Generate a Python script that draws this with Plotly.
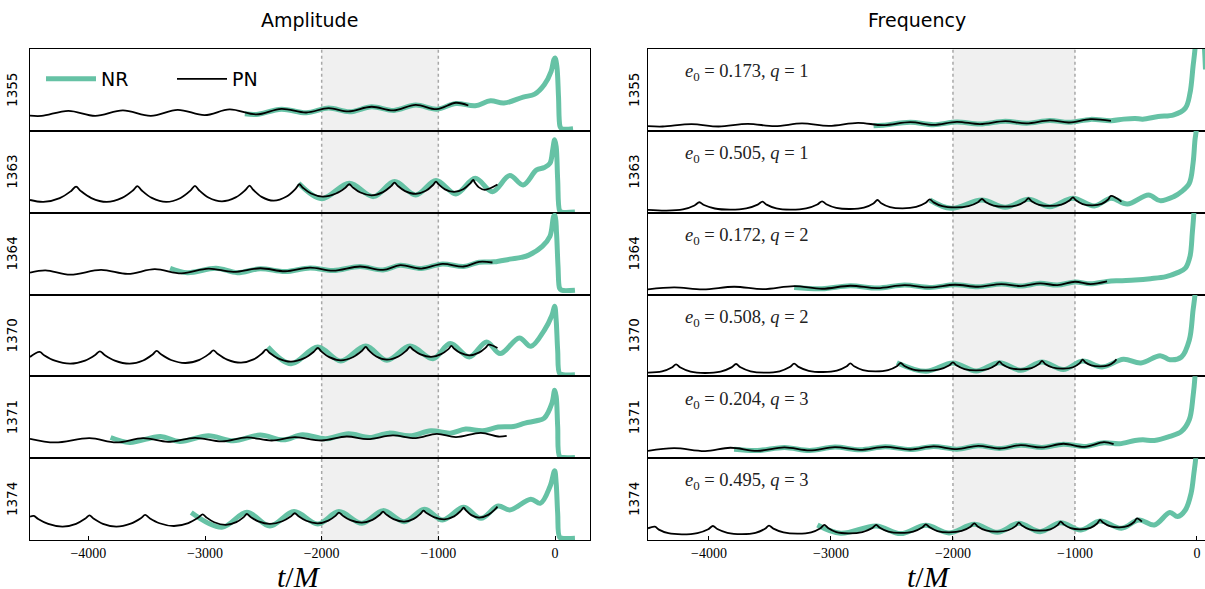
import plotly.graph_objects as go

W, H = 1205, 589

SIMS = ["1355", "1363", "1364", "1370", "1371", "1374"]
E0 = ["0.173", "0.505", "0.172", "0.508", "0.204", "0.495"]
Q = ["1", "1", "2", "2", "3", "3"]
TICKS = [-4000, -3000, -2000, -1000, 0]
WINDOW = [-2000, -1000]

# ---------------- Amplitude (values in % of panel height) ----------------
AMP_1355_PN_T = [-4500, -4400, -4171, -3941, -3704, -3464, -3234, -3003, -2789, -2559, -2345, -2132, -1941, -1770, -1572, -1385, -1194, -1013, -849, -743]
AMP_1355_PN_Y = [18.5, 18.2, 24.5, 18.4, 24.9, 18.4, 25.7, 19.2, 26.1, 20.0, 26.9, 22.4, 27.8, 23.7, 29.4, 24.9, 31.8, 26.5, 34.3, 31.0]
AMP_1355_NR_T = [-2658, -2559, -2345, -2132, -1941, -1760, -1572, -1380, -1194, -1013, -849, -684, -553, -438, -273, -174, -92, -33, -10, 0, 16, 30, 43, 56, 155]
AMP_1355_NR_Y = [20.8, 20.0, 26.5, 22.0, 27.8, 23.3, 29.4, 25.0, 31.5, 26.5, 33.5, 30.6, 36.7, 33.9, 41.2, 44.9, 56.3, 72.7, 86.9, 89.0, 78.8, 42.0, 5.3, 2.5, 2.5]

AMP_1363_PN_T = [-4500, -4385, -4245, -4147, -4105, -4066, -3974, -3842, -3711, -3618, -3579, -3542, -3456, -3332, -3209, -3123, -3086, -3051, -2971, -2855, -2737, -2654, -2618, -2587, -2515, -2411, -2301, -2224, -2191, -2161, -2091, -1990, -1877, -1797, -1763, -1734, -1668, -1572, -1474, -1405, -1375, -1348, -1285, -1194, -1107, -1046, -1020, -997, -943, -865, -783, -726, -701, -686, -652, -602, -493]
AMP_1363_PN_Y = [15.5, 13.1, 17.8, 26.6, 31.8, 26.6, 17.8, 13.1, 18.0, 27.1, 32.5, 27.1, 18.0, 13.1, 18.0, 27.2, 32.7, 27.4, 18.6, 13.9, 18.7, 27.7, 33.1, 28.0, 19.3, 14.7, 19.7, 29.1, 34.7, 30.5, 23.4, 19.6, 23.4, 30.5, 34.7, 30.9, 24.6, 21.2, 25.1, 32.4, 36.7, 32.8, 26.4, 22.9, 26.7, 33.8, 38.0, 34.4, 28.5, 25.3, 29.0, 35.9, 40.0, 36.6, 30.9, 27.8, 34.3]
AMP_1363_NR_T = [-2197, -2000, -1763, -1556, -1375, -1194, -1020, -849, -684, -536, -388, -273, -158, -92, -43, -20, -3, 10, 23, 40, 56, 171]
AMP_1363_NR_Y = [35.9, 17.1, 35.9, 19.6, 38.0, 21.6, 39.2, 22.9, 42.0, 25.7, 45.3, 33.9, 52.2, 55.1, 60.4, 76.7, 89.0, 80.8, 40.0, 2.4, 0.8, 0.8]

AMP_1364_PN_T = [-4500, -4368, -4155, -3891, -3661, -3431, -3201, -2970, -2757, -2526, -2313, -2099, -1901, -1671, -1474, -1326, -1145, -964, -783, -651, -536]
AMP_1364_PN_Y = [26.7, 29.6, 24.3, 30.0, 25.1, 30.9, 25.9, 31.7, 27.6, 32.1, 28.4, 32.9, 29.2, 34.2, 30.0, 35.8, 31.7, 37.4, 34.2, 39.9, 39.1]
AMP_1364_NR_T = [-3299, -3151, -2905, -2724, -2526, -2313, -2099, -1901, -1671, -1474, -1326, -1145, -964, -783, -651, -520, -388, -289, -224, -109, -43, -10, 0, 13, 26, 40, 56, 171]
AMP_1364_NR_Y = [32.1, 26.7, 32.1, 26.7, 31.5, 28.0, 32.5, 29.2, 34.2, 30.0, 35.8, 31.7, 37.4, 34.2, 39.5, 39.9, 43.2, 45.3, 48.1, 58.8, 71.2, 95.9, 96.7, 75.3, 34.2, 7.4, 5.3, 5.3]

AMP_1370_PN_T = [-4500, -4418, -4379, -4287, -4155, -4028, -3939, -3901, -3863, -3773, -3645, -3530, -3449, -3414, -3377, -3291, -3168, -3048, -2964, -2928, -2892, -2810, -2691, -2584, -2509, -2477, -2445, -2370, -2263, -2148, -2068, -2033, -2003, -1935, -1836, -1729, -1654, -1622, -1595, -1532, -1441, -1342, -1273, -1243, -1216, -1153, -1063, -976, -914, -888, -865, -811, -734, -652, -594, -569, -493]
AMP_1370_PN_Y = [23.7, 29.8, 25.8, 19.1, 15.5, 19.3, 26.4, 30.6, 26.4, 19.3, 15.5, 19.4, 26.7, 31.0, 26.9, 20.0, 16.3, 20.2, 27.5, 31.8, 27.6, 20.5, 16.7, 20.7, 28.2, 32.7, 28.6, 21.7, 18.0, 22.2, 30.0, 34.7, 30.5, 23.4, 19.6, 23.7, 31.3, 35.9, 31.6, 24.3, 20.4, 24.3, 31.6, 35.9, 32.5, 26.8, 23.7, 27.1, 33.3, 37.1, 33.9, 28.6, 25.7, 29.0, 35.1, 38.8, 34.7]
AMP_1370_NR_T = [-2461, -2263, -2033, -1836, -1622, -1441, -1243, -1046, -898, -734, -586, -470, -306, -207, -92, -26, -3, 10, 23, 40, 72, 171]
AMP_1370_NR_Y = [35.9, 15.5, 35.9, 18.8, 37.1, 19.6, 37.1, 21.6, 40.0, 23.7, 42.0, 27.8, 46.9, 36.7, 56.3, 74.7, 85.7, 68.6, 31.8, 3.3, 2.0, 2.0]

AMP_1371_PN_T = [-4500, -4286, -3990, -3760, -3530, -3316, -3086, -2855, -2641, -2428, -2230, -2000, -1786, -1605, -1391, -1194, -1013, -849, -635, -487, -414]
AMP_1371_PN_Y = [23.7, 19.2, 24.5, 19.2, 24.5, 20.0, 24.9, 20.4, 25.3, 21.6, 25.7, 21.6, 26.5, 23.3, 27.8, 24.5, 29.8, 25.7, 31.0, 26.5, 27.3]
AMP_1371_NR_T = [-3809, -3645, -3382, -3217, -2970, -2757, -2526, -2329, -2164, -1967, -1770, -1589, -1424, -1243, -1063, -898, -766, -618, -487, -355, -257, -158, -92, -26, -3, 10, 23, 40, 72, 171]
AMP_1371_NR_Y = [25.3, 19.2, 26.5, 20.4, 27.3, 21.2, 28.2, 22.4, 28.6, 23.7, 29.8, 25.3, 30.6, 27.3, 33.5, 30.6, 35.5, 33.5, 38.0, 38.8, 42.9, 45.7, 49.0, 67.3, 82.9, 75.5, 38.8, 2.0, 0.8, 0.8]

AMP_1374_PN_T = [-4500, -4467, -4430, -4344, -4220, -4105, -4025, -3990, -3956, -3875, -3760, -3637, -3550, -3513, -3476, -3390, -3266, -3143, -3057, -3020, -2990, -2921, -2822, -2732, -2668, -2641, -2611, -2543, -2444, -2337, -2262, -2230, -2200, -2132, -2033, -1943, -1879, -1852, -1822, -1754, -1655, -1565, -1501, -1474, -1447, -1384, -1293, -1211, -1153, -1128, -1101, -1038, -947, -865, -808, -783, -763, -717, -651, -572, -517, -493]
AMP_1374_PN_Y = [28.6, 29.4, 25.7, 19.6, 16.3, 19.8, 26.3, 30.2, 26.3, 19.8, 16.3, 19.9, 26.6, 30.6, 26.8, 20.5, 17.1, 20.7, 27.4, 31.4, 27.8, 21.7, 18.4, 21.8, 28.0, 31.8, 28.4, 22.7, 19.6, 22.9, 29.0, 32.7, 29.3, 23.5, 20.4, 23.7, 29.8, 33.5, 30.1, 24.3, 21.2, 24.6, 30.9, 34.7, 31.3, 25.5, 22.4, 25.8, 32.1, 35.9, 32.9, 28.0, 25.3, 28.9, 35.6, 39.6, 36.2, 30.4, 27.3, 30.7, 37.0, 40.8]
AMP_1374_NR_T = [-3118, -2855, -2641, -2444, -2237, -2033, -1852, -1655, -1474, -1293, -1118, -964, -783, -635, -487, -388, -207, -125, -43, -3, 10, 23, 40, 72, 171]
AMP_1374_NR_Y = [33.5, 15.5, 34.0, 17.1, 34.7, 19.6, 34.7, 20.4, 35.9, 22.4, 37.6, 24.5, 40.0, 26.5, 41.6, 36.7, 49.8, 44.9, 65.3, 84.5, 69.4, 32.7, 3.3, 2.0, 2.0]

# ---------------- Frequency (values in % of panel height) ----------------
FRQ_1355_PN_T = [-4500, -4380, -4143, -3921, -3683, -3460, -3238, -3016, -2778, -2571, -2349, -2159, -1968, -1778, -1571, -1397, -1206, -1048, -873, -705]
FRQ_1355_PN_Y = [5.7, 5.3, 8.2, 5.3, 8.6, 5.7, 9.0, 6.1, 9.8, 6.9, 10.6, 7.3, 11.0, 8.2, 11.8, 9.0, 12.7, 10.2, 14.3, 12.2]
FRQ_1355_NR_T = [-2651, -2571, -2349, -2159, -1968, -1778, -1571, -1397, -1206, -1048, -873, -705, -600, -508, -444, -317, -190, -95, -57, -32, -16, -5, 20, 50, 62, 70]
FRQ_1355_NR_Y = [6.1, 6.9, 10.4, 7.5, 10.8, 8.2, 11.8, 9.2, 12.7, 10.4, 14.0, 12.4, 14.3, 15.1, 14.3, 17.6, 19.6, 27.8, 46.1, 78.8, 100, 130, 170, 125, 100, 75]

FRQ_1363_PN_T = [-4500, -4349, -4214, -4119, -4079, -4041, -3952, -3825, -3694, -3601, -3562, -3528, -3448, -3333, -3203, -3112, -3073, -3038, -2957, -2841, -2730, -2652, -2619, -2588, -2516, -2413, -2302, -2223, -2190, -2159, -2087, -1984, -1873, -1795, -1762, -1733, -1667, -1571, -1476, -1410, -1381, -1355, -1294, -1206, -1111, -1045, -1016, -992, -937, -857, -781, -728, -705, -619]
FRQ_1363_PN_Y = [3.3, 2.4, 3.9, 8.8, 12.7, 9.3, 5.1, 3.7, 5.2, 9.8, 13.5, 9.8, 5.2, 3.7, 5.2, 10.0, 13.9, 10.3, 5.9, 4.5, 6.2, 11.3, 15.5, 11.6, 6.8, 5.3, 7.0, 12.1, 16.3, 12.6, 8.0, 6.5, 8.0, 12.8, 16.7, 13.1, 8.7, 7.3, 8.8, 13.7, 17.6, 14.0, 9.6, 8.2, 9.8, 14.8, 18.8, 15.1, 10.5, 9.0, 10.7, 16.1, 20.4, 13.5]
FRQ_1363_NR_T = [-2190, -2016, -1762, -1571, -1381, -1206, -1016, -841, -705, -571, -397, -302, -190, -127, -63, -32, -16, -6, 5]
FRQ_1363_NR_Y = [15.5, 5.3, 15.5, 6.5, 16.3, 7.3, 17.6, 8.2, 17.6, 10.6, 21.6, 14.7, 19.6, 25.7, 35.9, 60.4, 89.0, 100, 130]

FRQ_1364_PN_T = [-4500, -4286, -4048, -3794, -3556, -3302, -3073, -2841, -2619, -2397, -2190, -1984, -1794, -1603, -1444, -1286, -1143, -1000, -873, -737]
FRQ_1364_PN_Y = [6.2, 8.6, 6.2, 9.5, 6.6, 10.3, 7.0, 10.7, 7.8, 11.5, 8.6, 11.9, 9.5, 12.8, 10.3, 13.6, 11.5, 15.6, 12.8, 16.0]
FRQ_1364_NR_T = [-3302, -3073, -2841, -2619, -2397, -2190, -1984, -1794, -1603, -1444, -1286, -1143, -1000, -873, -737, -635, -508, -381, -254, -159, -95, -57, -38, -25, -15]
FRQ_1364_NR_Y = [8.6, 7.0, 10.7, 7.8, 11.5, 8.6, 11.9, 9.5, 12.8, 10.3, 13.6, 11.5, 15.4, 13.0, 16.0, 16.9, 17.7, 19.3, 21.8, 26.7, 32.1, 46.5, 75.3, 100, 130]

FRQ_1370_PN_T = [-4500, -4385, -4305, -4270, -4234, -4151, -4032, -3905, -3816, -3778, -3742, -3659, -3540, -3421, -3338, -3302, -3266, -3183, -3063, -2952, -2874, -2841, -2810, -2738, -2635, -2532, -2460, -2429, -2398, -2326, -2222, -2111, -2033, -2000, -1972, -1905, -1810, -1715, -1648, -1619, -1593, -1532, -1444, -1357, -1296, -1270, -1244, -1183, -1095, -1016, -961, -937, -916, -866, -794, -727, -680, -660]
FRQ_1370_PN_Y = [4.5, 6.0, 10.8, 14.7, 10.7, 5.7, 4.1, 5.8, 10.9, 15.1, 11.0, 6.1, 4.5, 6.2, 11.3, 15.5, 11.6, 6.8, 5.3, 6.9, 11.9, 15.9, 12.2, 7.6, 6.1, 7.6, 12.4, 16.3, 12.7, 8.3, 6.9, 8.4, 13.2, 17.1, 13.4, 8.8, 7.3, 8.9, 13.9, 18.0, 14.4, 10.0, 8.6, 10.1, 14.9, 18.8, 15.2, 10.8, 9.4, 11.1, 16.2, 20.4, 17.3, 13.4, 12.2, 13.5, 17.5, 20.8]
FRQ_1370_NR_T = [-2460, -2222, -2000, -1810, -1619, -1444, -1270, -1095, -937, -778, -603, -460, -302, -222, -127, -63, -32, -16, -6]
FRQ_1370_NR_Y = [16.7, 6.1, 16.3, 6.5, 16.7, 7.3, 17.6, 8.2, 18.8, 11.4, 20.8, 16.3, 25.3, 20.4, 23.7, 44.1, 80.8, 100, 130]

FRQ_1371_PN_T = [-4500, -4286, -4032, -3825, -3603, -3381, -3175, -2968, -2762, -2556, -2349, -2159, -1968, -1794, -1619, -1444, -1270, -1095, -921, -762, -683]
FRQ_1371_PN_Y = [9.0, 12.2, 8.6, 12.7, 9.0, 13.1, 9.4, 13.5, 10.2, 13.9, 10.6, 14.3, 11.0, 15.1, 11.8, 15.9, 13.1, 17.6, 13.9, 19.6, 17.1]
FRQ_1371_NR_T = [-3794, -3603, -3381, -3175, -2968, -2762, -2556, -2349, -2159, -1968, -1794, -1619, -1444, -1270, -1095, -921, -762, -635, -508, -444, -349, -222, -127, -63, -32, -16, -6]
FRQ_1371_NR_Y = [11.0, 9.4, 13.1, 9.4, 13.5, 10.2, 13.9, 10.6, 14.3, 11.0, 15.1, 11.8, 15.9, 13.1, 17.1, 14.3, 18.8, 17.6, 21.6, 22.4, 21.6, 26.5, 32.7, 46.9, 75.5, 100, 130]

FRQ_1374_PN_T = [-4500, -4444, -4411, -4333, -4222, -4095, -4006, -3968, -3932, -3849, -3730, -3619, -3541, -3508, -3472, -3389, -3270, -3162, -3086, -3054, -3024, -2956, -2857, -2743, -2663, -2629, -2599, -2529, -2429, -2326, -2253, -2222, -2194, -2127, -2032, -1929, -1856, -1825, -1797, -1730, -1635, -1548, -1486, -1460, -1434, -1373, -1286, -1202, -1142, -1117, -1092, -1035, -952, -873, -818, -794, -770, -715, -635, -564, -513, -492, -451]
FRQ_1374_PN_Y = [14.3, 16.3, 12.7, 8.3, 6.9, 8.4, 13.2, 17.1, 13.4, 8.8, 7.3, 8.8, 13.7, 17.6, 13.9, 9.3, 7.8, 9.4, 14.4, 18.4, 14.8, 9.7, 8.2, 9.7, 14.5, 18.4, 14.9, 10.1, 8.6, 10.2, 15.2, 19.2, 15.8, 10.9, 9.4, 11.1, 16.2, 20.4, 16.6, 11.7, 10.2, 11.9, 17.0, 21.2, 17.6, 12.9, 11.4, 13.1, 18.2, 22.4, 19.1, 14.5, 13.1, 14.8, 20.2, 24.5, 21.3, 16.9, 15.5, 17.2, 22.3, 26.5, 22.4]
FRQ_1374_NR_T = [-3111, -2921, -2629, -2429, -2222, -2032, -1825, -1635, -1460, -1286, -1117, -952, -794, -619, -476, -349, -222, -159, -95, -48, -25, -10, 0]
FRQ_1374_NR_Y = [18.4, 8.2, 17.1, 7.8, 18.0, 8.6, 19.2, 9.4, 20.4, 10.2, 21.2, 12.2, 23.3, 14.3, 24.5, 18.4, 33.5, 28.6, 36.7, 57.1, 81.6, 100, 130]

AMP = [
    (AMP_1355_NR_T, AMP_1355_NR_Y, AMP_1355_PN_T, AMP_1355_PN_Y),
    (AMP_1363_NR_T, AMP_1363_NR_Y, AMP_1363_PN_T, AMP_1363_PN_Y),
    (AMP_1364_NR_T, AMP_1364_NR_Y, AMP_1364_PN_T, AMP_1364_PN_Y),
    (AMP_1370_NR_T, AMP_1370_NR_Y, AMP_1370_PN_T, AMP_1370_PN_Y),
    (AMP_1371_NR_T, AMP_1371_NR_Y, AMP_1371_PN_T, AMP_1371_PN_Y),
    (AMP_1374_NR_T, AMP_1374_NR_Y, AMP_1374_PN_T, AMP_1374_PN_Y),
]
FRQ = [
    (FRQ_1355_NR_T, FRQ_1355_NR_Y, FRQ_1355_PN_T, FRQ_1355_PN_Y),
    (FRQ_1363_NR_T, FRQ_1363_NR_Y, FRQ_1363_PN_T, FRQ_1363_PN_Y),
    (FRQ_1364_NR_T, FRQ_1364_NR_Y, FRQ_1364_PN_T, FRQ_1364_PN_Y),
    (FRQ_1370_NR_T, FRQ_1370_NR_Y, FRQ_1370_PN_T, FRQ_1370_PN_Y),
    (FRQ_1371_NR_T, FRQ_1371_NR_Y, FRQ_1371_PN_T, FRQ_1371_PN_Y),
    (FRQ_1374_NR_T, FRQ_1374_NR_Y, FRQ_1374_PN_T, FRQ_1374_PN_Y),
]

NR_COLOR = "#66c2a5"
SANS = "DejaVu Sans, sans-serif"
SERIF = "Liberation Serif, DejaVu Serif, serif"

fig = go.Figure()

top = 1 - 49 / H
bot = 1 - 540 / H
rh = (top - bot) / 6
xdom = [[30 / W, 590 / W], [648 / W, 1.0]]
xrng = [[-4500, 300], [-4500, 66]]

layout = {}
shapes = []
annotations = []

for r in range(6):
    for c in range(2):
        n = r * 2 + c + 1
        xs = "x" if n == 1 else f"x{n}"
        ys = "y" if n == 1 else f"y{n}"
        xk = "xaxis" if n == 1 else f"xaxis{n}"
        yk = "yaxis" if n == 1 else f"yaxis{n}"
        bottom = r == 5
        layout[xk] = dict(
            domain=xdom[c], range=xrng[c], anchor=ys,
            showline=True, mirror=True, linecolor="black", linewidth=1.2,
            showgrid=False, zeroline=False,
            showticklabels=bottom, ticks="inside" if bottom else "",
            tickvals=TICKS, ticklen=4, tickcolor="black",
            tickfont=dict(family=SERIF, size=14, color="black"),
        )
        layout[yk] = dict(
            domain=[top - (r + 1) * rh, top - r * rh], range=[0, 100], anchor=xs,
            showline=True, mirror=True, linecolor="black", linewidth=1.2,
            showgrid=False, zeroline=False, showticklabels=False, ticks="",
        )
        nr_t, nr_y, pn_t, pn_y = (AMP if c == 0 else FRQ)[r]
        fig.add_trace(go.Scatter(
            x=nr_t, y=nr_y, mode="lines", xaxis=xs, yaxis=ys,
            line=dict(color=NR_COLOR, width=5, shape="spline", smoothing=1.0),
            name="NR", showlegend=(n == 1), legendgroup="NR"))
        fig.add_trace(go.Scatter(
            x=pn_t, y=pn_y, mode="lines", xaxis=xs, yaxis=ys,
            line=dict(color="black", width=1.8, shape="spline", smoothing=1.0),
            name="PN", showlegend=(n == 1), legendgroup="PN"))

        shapes.append(dict(type="rect", xref=xs, yref=f"{ys} domain",
                           x0=WINDOW[0], x1=WINDOW[1], y0=0, y1=1,
                           fillcolor="#f0f0f0", line=dict(width=0), layer="below"))
        for xv in WINDOW:
            shapes.append(dict(type="line", xref=xs, yref=f"{ys} domain",
                               x0=xv, x1=xv, y0=0, y1=1,
                               line=dict(color="#a8a8a8", width=1.5, dash="dot"),
                               layer="below"))

        yc = top - (r + 0.5) * rh
        annotations.append(dict(
            text=SIMS[r], xref="paper", yref="paper",
            x=(12 if c == 0 else 634) / W, y=yc, textangle=-90,
            showarrow=False, xanchor="center", yanchor="middle",
            font=dict(family=SANS, size=13.5, color="black")))
        if c == 1:
            annotations.append(dict(
                text=f"<i>e</i><sub>0</sub> = {E0[r]}, <i>q</i> = {Q[r]}",
                xref=xs, yref=f"{ys} domain", x=-4215, y=0.71,
                xanchor="left", yanchor="middle", showarrow=False,
                font=dict(family=SERIF, size=18.5, color="#222222")))

annotations.append(dict(text="Amplitude", xref="paper", yref="paper",
                        x=310 / W, y=1 - 20 / H, showarrow=False,
                        xanchor="center", yanchor="middle",
                        font=dict(family=SANS, size=19, color="black")))
annotations.append(dict(text="Frequency", xref="paper", yref="paper",
                        x=917 / W, y=1 - 20 / H, showarrow=False,
                        xanchor="center", yanchor="middle",
                        font=dict(family=SANS, size=19, color="black")))
for xc in (299, 929):
    annotations.append(dict(text="<i>t</i>/<i>M</i>", xref="paper", yref="paper",
                            x=xc / W, y=1 - 576 / H, showarrow=False,
                            xanchor="center", yanchor="middle",
                            font=dict(family=SERIF, size=30, color="black")))

fig.update_layout(
    width=W, height=H,
    margin=dict(l=0, r=0, t=0, b=0),
    paper_bgcolor="white", plot_bgcolor="white",
    shapes=shapes, annotations=annotations,
    legend=dict(orientation="h", x=41 / W, y=1 - 60 / H, xanchor="left", yanchor="top",
                bgcolor="rgba(0,0,0,0)", font=dict(family=SANS, size=19, color="black"),
                itemwidth=50, entrywidth=66, entrywidthmode="pixels", tracegroupgap=0),
    **layout,
)

fig.write_html("out.html")
